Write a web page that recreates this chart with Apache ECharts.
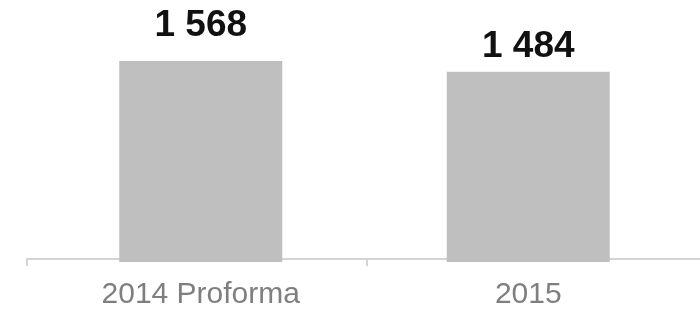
<!DOCTYPE html>
<html>
<head>
<meta charset="utf-8">
<script src="https://cdn.jsdelivr.net/npm/echarts@6/dist/echarts.min.js"></script>
<style>
  html, body { margin: 0; padding: 0; background: #fff; }
  #chart { width: 700px; height: 310px; }
</style>
</head>
<body>
<div id="chart"></div>
<script>
var categories = ['2014 Proforma', '2015'];
var values = [1568, 1484];

// espace comme séparateur de milliers
function fmt(v) {
    return String(v).replace(/\B(?=(\d{3})+(?!\d))/g, ' ');
}

var chart = echarts.init(document.getElementById('chart'));

var option = {
    animation: false,
    textStyle: { fontFamily: 'Liberation Sans, Arial, sans-serif' },
    grid: [
        // barres
        { left: 37, right: 8, top: 57, bottom: 48, outerBoundsMode: 'none' },
        // ligne d'axe seule, dépasse à droite
        { left: 27, width: 680, top: 57, bottom: 51, outerBoundsMode: 'none' }
    ],
    xAxis: [
        {
            type: 'category',
            gridIndex: 0,
            data: categories,
            axisLine: { show: false },
            axisTick: { show: false },
            axisLabel: {
                color: '#7f7f7f',
                fontSize: 30,
                margin: 18
            }
        },
        {
            type: 'category',
            gridIndex: 1,
            data: categories,
            axisLine: { lineStyle: { color: '#d4d4d4', width: 2 } },
            axisTick: { show: true, length: 7, lineStyle: { color: '#d4d4d4', width: 2 } },
            axisLabel: { show: false }
        }
    ],
    yAxis: [
        { type: 'value', gridIndex: 0, min: 0, max: 1600, show: false },
        { type: 'value', gridIndex: 1, min: 0, max: 1600, show: false }
    ],
    series: [
        {
            type: 'bar',
            xAxisIndex: 0,
            yAxisIndex: 0,
            barWidth: 163,
            itemStyle: { color: '#bfbfbf' },
            label: {
                show: true,
                position: 'top',
                color: '#111',
                fontSize: 37,
                fontWeight: 'bold',
                formatter: function (p) { return fmt(p.value); }
            },
            data: values.map(function (v, i) {
                return { value: v, label: { distance: i === 0 ? 17 : 7 } };
            })
        }
    ]
};

chart.setOption(option);
</script>
</body>
</html>
